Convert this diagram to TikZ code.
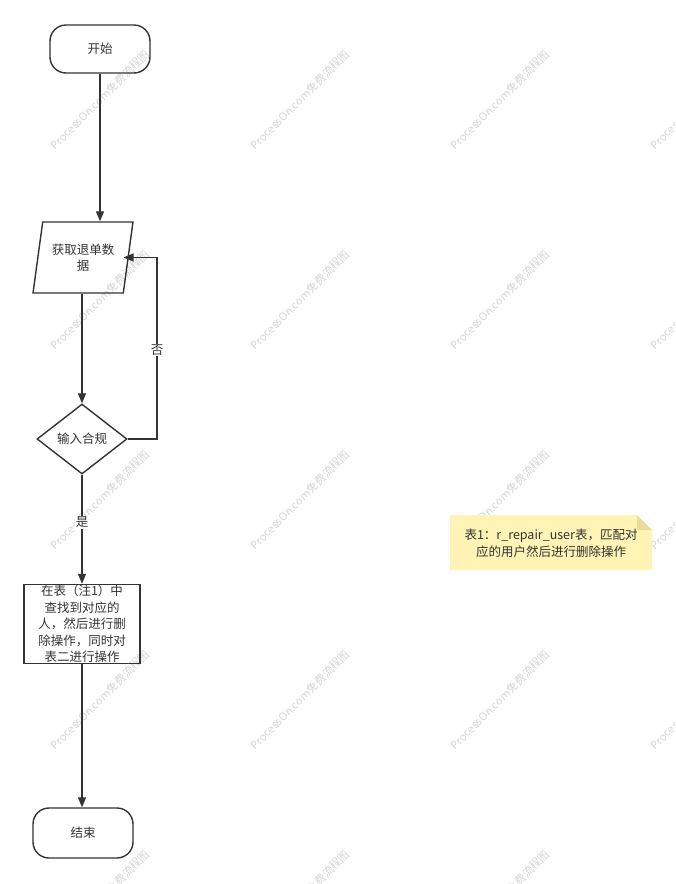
\documentclass[tikz,border=0pt]{standalone}
\usepackage{fontspec}
\setmainfont{Noto Sans CJK SC}
\usetikzlibrary{arrows.meta,shapes.geometric,calc}
\definecolor{ln}{HTML}{333333}
\definecolor{txt}{HTML}{333333}
\definecolor{notefill}{HTML}{FFF4B5}
\definecolor{notefold}{HTML}{E9DB9C}
\definecolor{wm}{HTML}{D4D4D4}
\begin{document}
\begin{tikzpicture}[x=1pt,y=-1pt,
  every node/.style={text=txt,font=\fontsize{12.5pt}{16.5pt}\selectfont},
  terminal/.style={draw=ln,line width=1.4pt,rounded corners=16pt,minimum width=100pt,inner sep=0pt},
  io/.style={draw=ln,line width=1.4pt,trapezium,trapezium left angle=75,trapezium right angle=105,trapezium stretches=true,minimum width=100pt,minimum height=71pt,inner sep=0pt,align=center},
  decision/.style={draw=ln,line width=1.4pt,diamond,aspect=1.3,minimum width=90pt,minimum height=70pt,inner sep=0pt},
  process/.style={draw=ln,line width=1.4pt,minimum width=116pt,minimum height=79pt,inner sep=0pt,align=center},
  plain/.style={draw=ln,line width=1.3pt},
  flow/.style={draw=ln,line width=1.3pt,-{Triangle[length=10pt,width=8pt]}},
  lbl/.style={fill=white,inner sep=1pt},
  wmark/.style={text=wm,font=\fontsize{11pt}{13pt}\selectfont,rotate=45}
]
\useasboundingbox (0,0) rectangle (676,884);
% watermarks
\foreach \wx in {100,300,500,700}{
  \foreach \wy in {100,300,500,700,900}{
    \node[wmark] at (\wx,\wy) {ProcessOn.com免费流程图};
  }
}
% nodes
\node[terminal,minimum height=48pt] (s) at (100,49) {开始};
\node[io] (p) at (83,257.5) {获取退单数\\据};
\node[decision] (d) at (82,439) {输入合规};
\node[process] (r) at (82,624) {在表（注1）中\\查找到对应的\\人，然后进行删\\除操作，同时对\\表二进行操作};
\node[terminal,minimum height=50pt] (e) at (83,833) {结束};
% note
\fill[notefill] (450,515) -- (637,515) -- (652,530) -- (652,570) -- (450,570) -- cycle;
\fill[notefold] (637,515) -- (652,530) -- (637,530) -- cycle;
\node[align=center] (n) at (551,543.5) {表1：r\_repair\_user表，匹配对\\应的用户然后进行删除操作};
% connectors
\coordinate (fbd) at (157,439);
\coordinate (fbu) at (157,257.5);
\coordinate (fbe) at (123.5,257.5);
\draw[flow] (s.south) -- (s.south |- p.north);
\draw[flow] (p.south -| d.north) -- (d.north);
\draw[plain,line join=miter] (d.east) -- (fbd) -- (fbu) -- (fbe);
\draw[flow] (fbu) -- (fbe);
\node[lbl] (no) at (157,350) {否};
\draw[flow] (d.south) -- (r.north);
\node[lbl] (yes) at (82,522) {是};
\draw[flow] (r.south) -- (r.south |- e.north);
\end{tikzpicture}
\end{document}
